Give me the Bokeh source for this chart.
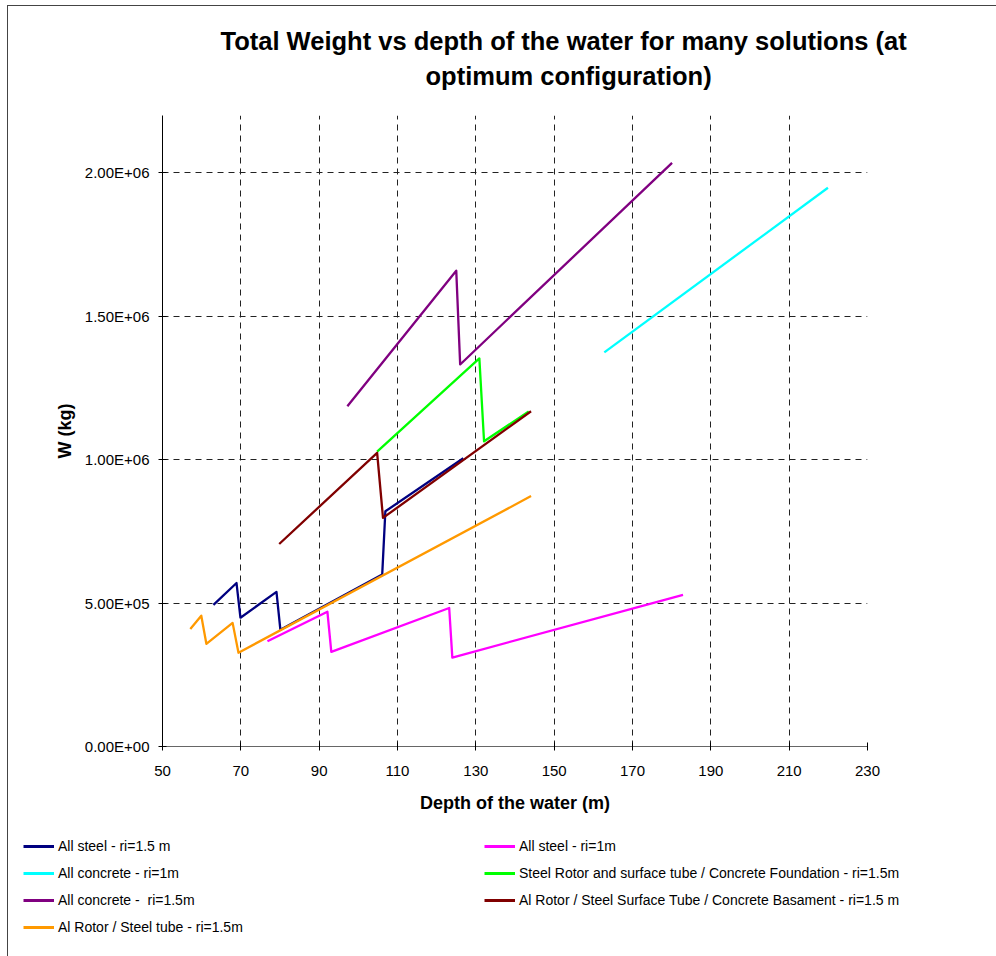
from bokeh.plotting import figure
from bokeh.layouts import column
from bokeh.models import Legend, LegendItem, FixedTicker, Title
from bokeh.embed import file_html
from bokeh.resources import INLINE

# Depth of the water (m) and total weight W (kg) for each solution
depth_steel_15 = [63.0, 68.9, 69.9, 79.1, 80.1, 106.1, 106.9, 126.8]
weight_steel_15 = [4.94e5, 5.70e5, 4.49e5, 5.39e5, 4.07e5, 6.00e5, 8.20e5, 1.005e6]

depth_steel_1 = [76.8, 92.1, 93.1, 123.2, 124.0, 182.9]
weight_steel_1 = [3.67e5, 4.70e5, 3.30e5, 4.83e5, 3.10e5, 5.29e5]

depth_concrete_1 = [162.8, 219.9]
weight_concrete_1 = [1.374e6, 1.948e6]

depth_steel_rotor = [104.8, 130.9, 132.1, 143.5]
weight_steel_rotor = [1.028e6, 1.353e6, 1.064e6, 1.168e6]

depth_concrete_15 = [97.2, 125.0, 126.0, 180.1]
weight_concrete_15 = [1.186e6, 1.659e6, 1.332e6, 2.035e6]

depth_al_basament = [79.8, 104.8, 106.3, 144.1]
weight_al_basament = [7.06e5, 1.024e6, 7.97e5, 1.169e6]

depth_al_tube = [57.1, 59.9, 61.2, 67.9, 69.4, 144.1]
weight_al_tube = [4.10e5, 4.56e5, 3.58e5, 4.31e5, 3.27e5, 8.73e5]

series_labels = [
    "All steel - ri=1.5 m",
    "All steel - ri=1m",
    "All concrete - ri=1m",
    "Steel Rotor and surface tube / Concrete Foundation - ri=1.5m",
    "All concrete -  ri=1.5m",
    "Al Rotor / Steel Surface Tube / Concrete Basament - ri=1.5 m",
    "Al Rotor / Steel tube - ri=1.5m",
]
series_colors = ["#000080", "#FF00FF", "#00FFFF", "#00FF00", "#800080", "#800000", "#FF9900"]

x_ticks = [50, 70, 90, 110, 130, 150, 170, 190, 210, 230]
y_ticks = [0, 500000, 1000000, 1500000, 2000000]
y_tick_labels = ["0.00E+00", "5.00E+05", "1.00E+06", "1.50E+06", "2.00E+06"]

title_line_1 = "Total Weight vs depth of the water for many solutions (at"
title_line_2 = "optimum configuration)"

FONT = "Liberation Sans"
BORDER = "1px solid #444444"

data = [
    (depth_steel_15, weight_steel_15),
    (depth_steel_1, weight_steel_1),
    (depth_concrete_1, weight_concrete_1),
    (depth_steel_rotor, weight_steel_rotor),
    (depth_concrete_15, weight_concrete_15),
    (depth_al_basament, weight_al_basament),
    (depth_al_tube, weight_al_tube),
]

# ---- main chart ----
p = figure(
    width=988, height=814,
    x_range=(50, 230), y_range=(0, 2.2e6),
    output_backend="svg", toolbar_location=None,
    min_border_left=154, min_border_right=129,
    min_border_top=109, min_border_bottom=74,
)
p.outline_line_color = None
p.background_fill_color = "white"
p.border_fill_color = "white"

# gap between the plot area and the title block
p.add_layout(Title(text=" ", text_font_size="1px", standoff=20), "above")
# two-line title, each line centred on its own
for text, off, standoff in ((title_line_2, 263, 6), (title_line_1, 58, 4)):
    p.add_layout(Title(text=text, align="left", offset=off, standoff=standoff,
                       text_font=FONT, text_font_size="25.5px",
                       text_font_style="bold", text_color="black"), "above")

p.xaxis.ticker = FixedTicker(ticks=x_ticks)
p.yaxis.ticker = FixedTicker(ticks=y_ticks)
p.yaxis.major_label_overrides = dict(zip(y_ticks, y_tick_labels))
p.xaxis.axis_label = "Depth of the water (m)"
p.yaxis.axis_label = "W (kg)"
for ax in (p.xaxis[0], p.yaxis[0]):
    ax.axis_label_text_font = FONT
    ax.axis_label_text_font_size = "18px"
    ax.axis_label_text_font_style = "bold"
    ax.axis_label_text_color = "black"
    ax.major_label_text_font = FONT
    ax.major_label_text_font_size = "15px"
    ax.major_label_text_color = "black"
    ax.major_tick_in = 4
    ax.major_tick_out = 4
    ax.minor_tick_line_color = None
    ax.major_tick_line_color = "black"
p.xaxis.axis_line_color = "#666666"
p.yaxis.axis_line_color = "black"
p.xaxis.major_label_standoff = 15
p.yaxis.major_label_standoff = 9
p.xaxis.axis_label_standoff = 14
p.yaxis.axis_label_standoff = 7

# dashed grid
p.xgrid.ticker = FixedTicker(ticks=x_ticks[1:])
p.ygrid.ticker = FixedTicker(ticks=y_ticks[1:])
for g in (p.xgrid[0], p.ygrid[0]):
    g.grid_line_color = "#222222"
    g.grid_line_dash = "6 5"
    g.grid_line_width = 1

for (xs, ys), color in zip(data, series_colors):
    p.line(xs, ys, line_color=color, line_width=2.3, line_join="round")

# ---- legend strip under the chart ----
leg_fig = figure(
    width=988, height=136, x_range=(0, 1), y_range=(0, 1),
    x_axis_type=None, y_axis_type=None,
    output_backend="svg", toolbar_location=None, min_border=0,
)
leg_fig.outline_line_color = None
leg_fig.grid.visible = False
# same series, drawn outside this strip's view so only their legend keys show
keys = [leg_fig.line(xs, ys, line_color=c, line_width=3)
        for (xs, ys), c in zip(data, series_colors)]

order = [0, 2, 4, 6, 1, 3, 5]
items = [LegendItem(label=series_labels[i], renderers=[keys[i]]) for i in order]
legend = Legend(
    items=items, location=(15, 19), ncols=2,
    label_text_font=FONT, label_text_font_size="14px", label_text_color="black",
    glyph_width=31, glyph_height=20, label_height=20, label_width=419,
    label_standoff=4, spacing=7, padding=0, margin=0,
    border_line_color=None, background_fill_alpha=0,
)
leg_fig.add_layout(legend)

# keep each plot area where it is instead of lining the two up
for f in (p, leg_fig):
    if "frame_align" in f.properties():
        f.frame_align = False

page = column(
    p, leg_fig, spacing=0,
    styles={"margin-left": "7px", "margin-top": "5px",
            "border-left": BORDER, "border-top": BORDER},
)

open("out.html", "w").write(file_html(page, INLINE))
